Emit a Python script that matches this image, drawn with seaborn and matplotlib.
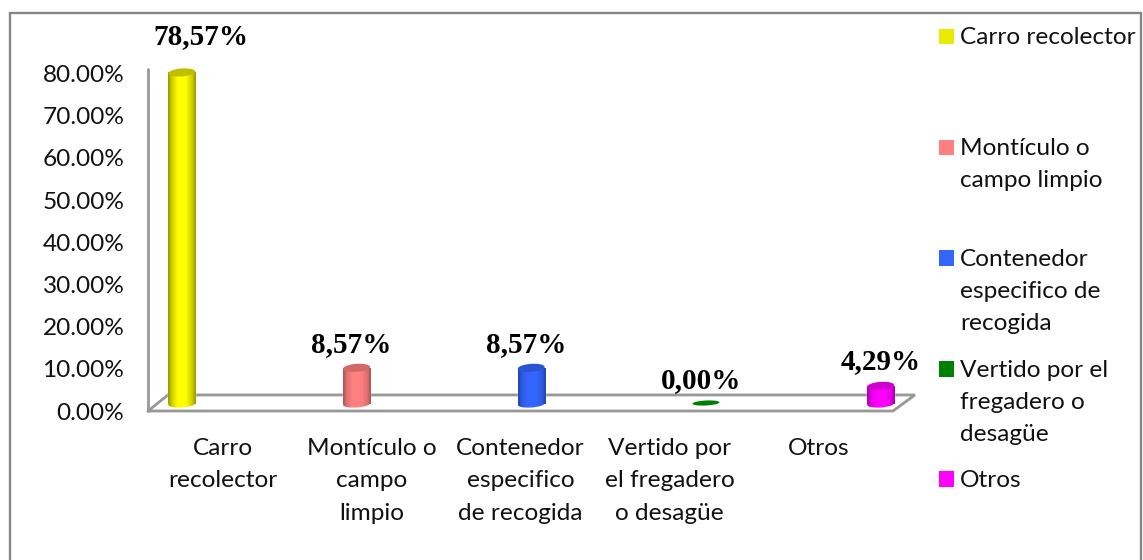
import numpy as np
import matplotlib
matplotlib.use("Agg")
import matplotlib.pyplot as plt
import seaborn as sns
from matplotlib.colors import LinearSegmentedColormap, to_rgb
from matplotlib.lines import Line2D
from matplotlib.patches import Ellipse, Patch
from matplotlib.transforms import IdentityTransform

categories = ["Carro recolector", "Montículo o campo limpio", "Contenedor especifico de recogida",
              "Vertido por el fregadero o desagüe", "Otros"]
values = [78.57, 8.57, 8.57, 0.0, 4.29]
value_labels = ["78,57%", "8,57%", "8,57%", "0,00%", "4,29%"]
tick_labels = ["Carro\nrecolector", "Montículo o\ncampo\nlimpio", "Contenedor\nespecifico\nde recogida",
               "Vertido por\nel fregadero\no desagüe", "Otros"]
legend_labels = ["Carro recolector", "Montículo o\ncampo limpio", "Contenedor\nespecifico de\nrecogida",
                 "Vertido por el\nfregadero o\ndesagüe", "Otros"]
legend_extra_lines = [2, 1, 0, 0, 0]
colors = ["#EAEA00", "#FF8080", "#3366FF", "#008000", "#FF00FF"]
yticks = [0, 10, 20, 30, 40, 50, 60, 70, 80]
label_shift = [(19, 36), (-5, 23), (-5, 23), (-5, 23), (0, 24)]

W, H = 1143, 560
GREY = "#989898"
BODY_FONT = "Lato"
BODY_SIZE = 17.6

sns.set_theme(style="white")
plt.rcParams["font.family"] = BODY_FONT


def box(left, right, top, bottom):
    return [left / W, 1 - bottom / H, (right - left) / W, (bottom - top) / H]


fig = plt.figure(figsize=(W / 100, H / 100), dpi=100, facecolor="white")

# outer frame, open at the bottom
for xs, ys in [((9.5, 9.5), (560, 13)), ((9.5, 1141), (13, 13)), ((1141, 1141), (13, 560))]:
    fig.add_artist(Line2D([x / W for x in xs], [1 - y / H for y in ys], color="#868686", lw=1.7))

# front plane: y axis, category labels and floor
ax_front = fig.add_axes(box(148, 893, 73.5, 411))
ax_front.set_xlim(-0.5, 4.5)
ax_front.set_ylim(0, 80)
ax_front.set_xticks(range(5))
ax_front.set_xticklabels(tick_labels, va="top", linespacing=1.66)
ax_front.set_yticks(yticks)
ax_front.set_yticklabels([f"{t:.2f}%" for t in yticks])
ax_front.tick_params(axis="both", length=0, labelsize=BODY_SIZE, labelcolor="#111111")
ax_front.tick_params(axis="x", pad=19.5)
ax_front.tick_params(axis="y", pad=17)
sns.despine(ax=ax_front, top=True, right=True, bottom=True, left=True)
ax_front.plot([-0.5, -0.5], [0, 81], color=GREY, lw=2, clip_on=False)
floor_x = [-0.5, 4.5, 4.647, -0.366, -0.5]
floor_y = [0, 0, 3.8, 3.8, 0]
ax_front.plot(floor_x, floor_y, color=GREY, lw=2, clip_on=False, solid_joinstyle="miter")

# cylinders
ax_bars = fig.add_axes(box(94.5, 968, 66.4, 404))
ax_bars.patch.set_alpha(0)
sns.barplot(x=categories, y=values, hue=categories, palette=colors, dodge=False, saturation=1,
            width=0.155, legend=False, ax=ax_bars)
ax_bars.set_xlim(-0.5, 4.5)
ax_bars.set_ylim(0, 80)
ax_bars.axis("off")


def shade(c):
    c = np.array(to_rgb(c))
    lit = c / c.max()
    return LinearSegmentedColormap.from_list(
        "cyl", [(0, c * 0.66), (0.13, c * 0.88), (0.35, lit), (0.65, lit), (0.87, c * 0.88), (1, c * 0.66)])


ramp = np.linspace(0, 1, 64).reshape(1, -1)
for bar in ax_bars.patches[:len(values)]:
    i = int(round(bar.get_x() + bar.get_width() / 2))
    v, c = values[i], colors[i]
    px, py0 = ax_bars.transData.transform((i, 0))
    _, py1 = ax_bars.transData.transform((i, v))
    x0, x1 = i - 0.0775, i + 0.0775
    if v == 0:
        ax_bars.add_patch(Ellipse((px, py0 + 1), 27, 5, angle=3, facecolor=c, edgecolor="none",
                                  transform=IdentityTransform(), zorder=5, clip_on=False))
        continue
    base = Ellipse((px, py0), 27, 7, angle=4, facecolor="none", edgecolor="none",
                   transform=IdentityTransform(), clip_on=False)
    ax_bars.add_patch(base)
    im = ax_bars.imshow(ramp, extent=(x0, x1, -3, 3), aspect="auto", cmap=shade(c), zorder=3)
    im.set_clip_box(fig.bbox)
    im.set_clip_path(base)
    im = ax_bars.imshow(ramp, extent=(x0, x1, 0, v), aspect="auto", cmap=shade(c), zorder=3)
    im.set_clip_path(bar)
    ax_bars.add_patch(Ellipse((px, py1), 27, 8, angle=4, facecolor=np.array(to_rgb(c)) * 0.82,
                              edgecolor="none", transform=IdentityTransform(), zorder=5, clip_on=False))
ax_bars.set_xlim(-0.5, 4.5)
ax_bars.set_ylim(0, 80)

for i, v in enumerate(values):
    ax_bars.annotate(value_labels[i], (i, v), xytext=(label_shift[i][0] * 0.72, label_shift[i][1] * 0.72),
                     textcoords="offset points", ha="center", va="center", clip_on=False,
                     fontfamily="Liberation Serif", fontweight="bold", fontsize=21, color="black", zorder=6)

# legend, blank lines keep the uneven spacing of the entries
line_h = 33 * 0.72
handles = [Patch(facecolor=c, edgecolor="none") for c in colors]
labels = [lab + "\n " * n for lab, n in zip(legend_labels, legend_extra_lines)]
leg = fig.legend(handles, labels, loc="upper left", bbox_to_anchor=(939 / W, 1 - 27 / H),
                 frameon=False, fontsize=BODY_SIZE, handlelength=0.61, handleheight=0.61,
                 handletextpad=0.25, labelspacing=1.04, borderpad=0, borderaxespad=0,
                 labelcolor="#111111")
for t in leg.get_texts():
    t.set_linespacing(1.66)
for p, lab, n in zip(leg.get_patches(), legend_labels, legend_extra_lines):
    rows = lab.count("\n") + 1 + n
    p.set_y(p.get_y() + (rows - 1) / 2 * line_h)

fig.savefig("out.png", dpi=100, facecolor="white")
